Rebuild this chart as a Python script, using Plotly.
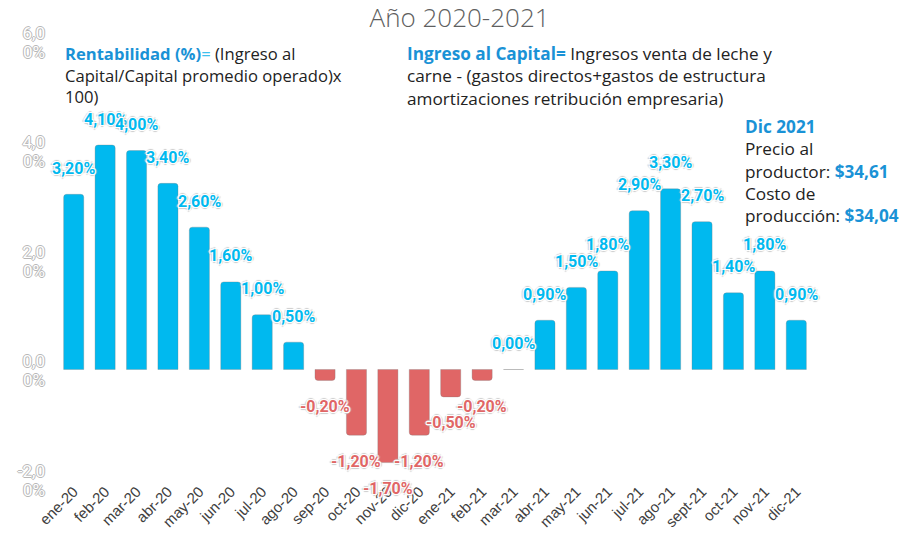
import plotly.graph_objects as go

categories = ["ene-20", "feb-20", "mar-20", "abr-20", "may-20", "jun-20", "jul-20", "ago-20",
              "sep-20", "oct-20", "nov-20", "dic-20", "ene-21", "feb-21", "mar-21", "abr-21",
              "may-21", "jun-21", "jul-21", "ago-21", "sept-21", "oct-21", "nov-21", "dic-21"]
rentabilidad = [3.2, 4.1, 4.0, 3.4, 2.6, 1.6, 1.0, 0.5,
                -0.2, -1.2, -1.7, -1.2, -0.5, -0.2, 0.0, 0.9,
                1.5, 1.8, 2.9, 3.3, 2.7, 1.4, 1.8, 0.9]
y_tickvals = [-2, 0, 2, 4, 6]
y_ticktext_top = ["-2,0", "0,0", "2,0", "4,0", "6,0"]
y_ticktext_bottom = ["0%", "0%", "0%", "0%", "0%"]

POS = "#00b9ef"
NEG = "#e06666"
colors = [POS if v >= 0 else NEG for v in rentabilidad]

fig = go.Figure()
fig.add_trace(go.Bar(
    x=categories, y=rentabilidad,
    marker=dict(color=colors, cornerradius=3, line=dict(width=0.6, color="rgba(120,120,120,0.5)")),
    hoverinfo="x+y",
))
# invisible companion trace so the second (overlaying) y axis is drawn
fig.add_trace(go.Scatter(
    x=categories, y=rentabilidad, yaxis="y2", mode="markers",
    marker=dict(opacity=0), hoverinfo="skip", showlegend=False,
))

halo = ("1px 1px 0 #fff, -1px -1px 0 #fff, 1px -1px 0 #fff, -1px 1px 0 #fff, "
        "2px 0 1px #ccc, -2px 0 1px #ccc, 0 2px 1px #ccc, 0 -2px 1px #ccc")
for c, v, col in zip(categories, rentabilidad, colors):
    fig.add_annotation(
        x=c, y=v, xref="x", yref="y",
        text=f"{v:.2f}%".replace(".", ","),
        showarrow=False, yshift=26 if v >= 0 else -26,
        font=dict(family="Roboto", size=16, color=col, weight="bold", shadow=halo),
    )

# helper to convert pixel coordinates to paper coordinates
L, R, T, B = 58, 98, 41, 55
W, H = 910, 534
pw, ph = W - L - R, H - T - B
def px(x):
    return (x - L) / pw
def py(y):
    return (H - B - y) / ph

BLUE = "#1a92d6"
TXT = "#222222"
FONT = "Open Sans"
fig.add_annotation(
    xref="paper", yref="paper", x=px(63), y=py(40), xanchor="left", yanchor="top",
    align="left", showarrow=False,
    text=(f"<b><span style='color:{BLUE}'>Rentabilidad (%)</span></b>"
          f"<span style='color:#3fc0ee'>=</span> (Ingreso al<br>"
          "Capital/Capital promedio operado)x<br>100)"),
    font=dict(family=FONT, size=16.6, color=TXT),
)
fig.add_annotation(
    xref="paper", yref="paper", x=px(405), y=py(40), xanchor="left", yanchor="top",
    align="left", showarrow=False,
    text=(f"<b><span style='color:{BLUE}'>Ingreso al Capital=</span></b> Ingresos venta de leche y<br>"
          "carne - (gastos directos+gastos de estructura<br>"
          "amortizaciones retribución empresaria)"),
    font=dict(family=FONT, size=17.2, color=TXT),
)
fig.add_annotation(
    xref="paper", yref="paper", x=px(743), y=py(113), xanchor="left", yanchor="top",
    align="left", showarrow=False,
    text=(f"<b><span style='color:{BLUE}'>Dic 2021</span></b><br>"
          "Precio al<br>"
          f"productor: <b><span style='color:{BLUE}'>$34,61</span></b><br>"
          "Costo de<br>"
          f"producción: <b><span style='color:{BLUE}'>$34,04</span></b>"),
    font=dict(family=FONT, size=17.2, color=TXT),
)

hollow = dict(family="Roboto", size=17, color="#ffffff",
              shadow="1px 0 0 #b8b8b8, -1px 0 0 #b8b8b8, 0 1px 0 #b8b8b8, 0 -1px 0 #b8b8b8")

fig.update_layout(
    width=W, height=H,
    margin=dict(l=L, r=R, t=T, b=B),
    paper_bgcolor="white", plot_bgcolor="white",
    showlegend=False,
    bargap=0.36,
    title=dict(text="Año 2020-2021", x=0.505, xanchor="center", y=0.966, yanchor="middle",
               font=dict(family=FONT, size=26, color="#5f5f5f", weight=300)),
    xaxis=dict(
        type="category", range=[-0.5, len(categories) - 0.5],
        tickangle=-45, showgrid=False, showline=False, zeroline=False,
        ticks="", tickfont=dict(family="Liberation Sans", size=15, color="#404040"),
        automargin=False,
    ),
    yaxis=dict(
        range=[-2, 6], tickvals=y_tickvals, ticktext=y_ticktext_top,
        showgrid=False, zeroline=False, showline=False, ticks="",
        ticklabelstandoff=12, ticklabelshift=-8, automargin=False,
        tickfont=hollow,
    ),
    yaxis2=dict(
        overlaying="y", side="left", anchor="x",
        range=[-2, 6], tickvals=y_tickvals, ticktext=y_ticktext_bottom,
        showgrid=False, zeroline=False, showline=False, ticks="",
        ticklabelstandoff=12, ticklabelshift=11, automargin=False,
        tickfont=hollow,
    ),
)

fig.write_html("out.html", config={"displayModeBar": False},
               post_script="document.body.style.margin='0';document.body.style.overflow='hidden';")
